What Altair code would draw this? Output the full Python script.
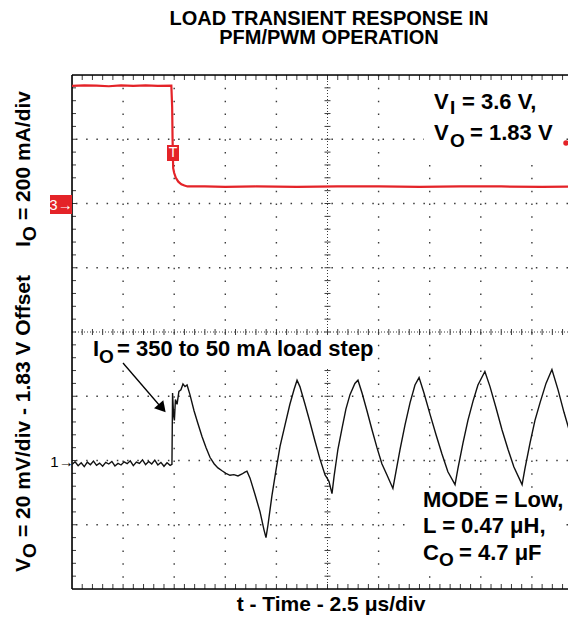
import altair as alt
import pandas as pd

# ---------------- data ----------------
# Channel 3 : output current I_O (mA) vs time (µs)
i_time = [0.0, 0.6, 1.2, 1.8, 2.4, 3.0, 3.6, 4.2, 4.86,
          4.90, 4.92, 4.95, 5.00, 5.08, 5.20, 5.35, 5.50, 5.65,
          6.5, 7.5, 9.0, 11.0, 13.0, 15.0, 17.0, 19.0, 21.0, 23.0, 24.66]
i_ma = [366, 368, 367, 365, 368, 366, 368, 366, 367,
        300, 200, 110, 95, 80, 68, 60, 56, 53,
        53, 52, 53, 52, 53, 53, 52, 53, 53, 52, 53]

# Channel 1 : output voltage deviation (mV, 1.83 V offset) vs time (µs)
v_time_base = [0.00, 0.15, 0.30, 0.45, 0.60, 0.75, 0.90, 1.05, 1.20, 1.35, 1.50,
               1.65, 1.80, 1.95, 2.10, 2.25, 2.40, 2.55, 2.70, 2.85, 3.00, 3.15,
               3.30, 3.45, 3.60, 3.75, 3.90, 4.05, 4.20, 4.35, 4.50, 4.65, 4.80]
v_mv_base = [-1.2, -0.4, -1.6, -0.7, -1.9, -0.5, -1.3, -0.2, -1.5, -0.8, -1.8,
             -0.6, -1.1, -0.3, -1.7, -0.9, -1.4, -0.4, -1.0, -0.1, -1.6, -0.5,
             -0.9, 0.2, -1.3, -0.3, -1.1, 0.1, -1.4, -0.6, -1.8, -0.7, -1.5]
v_time_step = [4.89, 4.92, 4.97, 5.01, 5.06, 5.14, 5.23, 5.33, 5.43, 5.53, 5.63, 5.77,
               5.97, 6.16, 6.36, 6.56, 6.75, 6.95, 7.14, 7.34, 7.53, 7.73, 7.92, 8.12,
               8.32, 8.46, 8.56, 8.71, 8.95, 9.20, 9.39, 9.49, 9.59, 9.78, 9.98, 10.18,
               10.42, 10.66, 10.86, 11.01, 11.15, 11.40, 11.64, 11.89, 12.13, 12.38,
               12.48, 12.57, 12.72, 12.82, 13.01, 13.21, 13.40, 13.60, 13.84, 13.99,
               14.19, 14.43, 14.68, 14.92, 15.16, 15.41, 15.70, 15.85, 16.05, 16.29,
               16.54, 16.78, 16.98, 17.22, 17.51, 17.81, 18.10, 18.39, 18.74, 18.88,
               19.13, 19.37, 19.62, 19.86, 20.20, 20.45, 20.74, 21.04, 21.33, 21.62,
               22.02, 22.16, 22.41, 22.65, 22.90, 23.19, 23.48, 23.78, 24.07, 24.37, 24.66]
v_mv_step = [-1.2, 21.0, 14.0, 12.5, 19.0, 17.5, 21.5, 22.0, 23.8, 23.0, 23.5, 20.5,
             15.5, 11.5, 7.5, 4.0, 1.0, -1.0, -2.3, -3.2, -4.0, -4.6, -4.4, -4.8,
             -4.2, -3.6, -3.3, -5.5, -10.5, -16.0, -21.5, -24.0, -20.0, -11.0, -3.0, 4.5,
             11.0, 17.5, 22.0, 25.0, 23.0, 17.5, 12.0, 6.0, 0.5, -4.5,
             -5.5, -6.5, -10.3, -5.0, 3.5, 10.0, 16.0, 20.5, 24.0, 25.0,
             21.0, 15.5, 9.5, 4.0, -1.0, -4.5, -8.7, -3.5, 3.5, 11.0,
             18.0, 23.5, 25.8, 21.0, 14.5, 8.0, 2.0, -3.5, -7.5, -2.5,
             5.5, 12.5, 18.5, 23.5, 27.7, 23.0, 16.5, 9.5, 3.5, -2.0,
             -7.5, -2.5, 5.5, 12.5, 18.0, 24.0, 28.3, 22.0, 15.0, 8.5, 4.0]

# scope graticule (time in µs, vertical in divisions)
major_t = [2.5, 5.0, 7.5, 10.0, 15.0, 17.5, 20.0, 22.5]
center_t = [12.5]
major_div = [1, 2, 3, 5, 6, 7]
center_div = [4]
minor_t = [0.5 * k for k in range(1, 49)]
minor_div = [0.2 * k for k in range(1, 40)]

# ---------------- layout / style ----------------
W, H = 496, 514
T_MAX = 25.0 * W / 511.0     # 511 px = 10 div = 25 µs; right edge of the screen is cut
FONT = "Liberation Sans, Arial, Helvetica, sans-serif"
RED = "#e42328"
GRID = "#3a3a3a"
ANN = 22  # annotation font size

xs = alt.Scale(domain=[0, T_MAX], nice=False, zero=False)
ds = alt.Scale(domain=[0, 8], nice=False, zero=False)
one = pd.DataFrame({"k": [0]})


def vrules(vals, dash, width=1.4, color=GRID):
    return alt.Chart(pd.DataFrame({"t": vals})).mark_rule(
        strokeDash=dash, strokeWidth=width, color=color
    ).encode(x=alt.X("t:Q", scale=xs, axis=None))


def hrules(vals, dash, width=1.4, color=GRID):
    return alt.Chart(pd.DataFrame({"d": vals})).mark_rule(
        strokeDash=dash, strokeWidth=width, color=color
    ).encode(y=alt.Y("d:Q", scale=ds, axis=None))


def ticks_along_x(t_vals, d_level, size, yoff=0):
    df = pd.DataFrame({"t": t_vals, "d": [d_level] * len(t_vals)})
    return alt.Chart(df).mark_tick(
        orient="vertical", size=size, thickness=1, color=GRID, yOffset=yoff, opacity=1
    ).encode(x=alt.X("t:Q", scale=xs, axis=None), y=alt.Y("d:Q", scale=ds, axis=None))


def ticks_along_y(d_vals, t_level, size, xoff=0):
    df = pd.DataFrame({"t": [t_level] * len(d_vals), "d": d_vals})
    return alt.Chart(df).mark_tick(
        orient="horizontal", size=size, thickness=1, color=GRID, xOffset=xoff, opacity=1
    ).encode(x=alt.X("t:Q", scale=xs, axis=None), y=alt.Y("d:Q", scale=ds, axis=None))


def txt(text, x, y, size=ANN, align="left", angle=0, color="black", weight="bold",
        baseline="alphabetic"):
    return alt.Chart(one).mark_text(
        text=text, align=align, baseline=baseline, angle=angle, fontSize=size,
        fontWeight=weight, font=FONT, color=color
    ).encode(x=alt.value(x), y=alt.value(y))


def box(x1, x2, y1, y2, color="white"):
    return alt.Chart(one).mark_rect(color=color).encode(
        x=alt.value(x1), x2=alt.value(x2), y=alt.value(y1), y2=alt.value(y2)
    )


def line_seg(x1, y1, x2, y2, width=1.5, color="black"):
    return alt.Chart(one).mark_rule(color=color, strokeWidth=width).encode(
        x=alt.value(x1), y=alt.value(y1), x2=alt.value(x2), y2=alt.value(y2)
    )


layers = []
# graticule
layers.append(vrules(major_t, [1.5, 11.35]))
layers.append(hrules(major_div, [1.5, 8.72]))
layers.append(vrules(center_t, [1, 2], width=1))
layers.append(hrules(center_div, [1, 2], width=1))
layers.append(ticks_along_x(minor_t, 4, 6))
layers.append(ticks_along_y(minor_div, 12.5, 6))
layers.append(ticks_along_x(minor_t, 8, 5, yoff=2.5))
layers.append(ticks_along_x(minor_t, 0, 5, yoff=-2.5))
layers.append(ticks_along_y(minor_div, 0, 4, xoff=2))
# frame (left, top, bottom)
layers.append(line_seg(0, 0, 0, H, width=1.6))
layers.append(line_seg(0, 0, W, 0, width=1.6))
layers.append(line_seg(0, H, W, H, width=1.6))

# white backgrounds of the annotations
layers.append(box(8, 300, 261, 293))
layers.append(box(352, 490, 6, 82))
layers.append(box(340, 490, 413, 498))

# traces
cur = pd.DataFrame({"t": i_time, "mA": i_ma})
layers.append(alt.Chart(cur).mark_line(color=RED, strokeWidth=2.2, clip=True).encode(
    x=alt.X("t:Q", scale=xs, axis=None),
    y=alt.Y("mA:Q", scale=alt.Scale(domain=[-1200, 400], nice=False, zero=False), axis=None),
))
volt = pd.DataFrame({"t": v_time_base + v_time_step, "mV": v_mv_base + v_mv_step})
layers.append(alt.Chart(volt).mark_line(color="#111111", strokeWidth=1.4, clip=True).encode(
    x=alt.X("t:Q", scale=xs, axis=None),
    y=alt.Y("mV:Q", scale=alt.Scale(domain=[-40, 120], nice=False, zero=False), axis=None),
))

# channel markers
layers.append(box(95, 107, 70, 86, color=RED))
layers.append(txt("T", 101, 78, size=14, align="center", color="white", weight="normal",
                  baseline="middle"))
layers.append(box(-22, 0, 120, 139, color=RED))
layers.append(txt("3→", -11, 130, size=15, align="center", color="white", weight="normal",
                  baseline="middle"))
layers.append(txt("1→", -10, 387, size=15, align="center", color="black", weight="normal",
                  baseline="middle"))
layers.append(alt.Chart(one).mark_point(shape="circle", filled=True, size=30, color=RED, opacity=1)
              .encode(x=alt.value(494), y=alt.value(68)))

# arrow for the load step
layers.append(line_seg(51, 288, 88, 331, width=1.3))
layers.append(alt.Chart(one).mark_point(shape="triangle", filled=True, size=150, angle=139,
                                        color="black", opacity=1)
              .encode(x=alt.value(89), y=alt.value(332)))

# titles
layers.append(txt("LOAD TRANSIENT RESPONSE IN", 257, -50, size=20, align="center"))
layers.append(txt("PFM/PWM OPERATION", 257, -31, size=20, align="center"))
layers.append(txt("t - Time - 2.5 μs/div", 259, 536, size=21, align="center"))

# vertical axis labels (rotated)
layers.append(txt("I", -42, 172, size=21, angle=270))
layers.append(txt("O", -36, 166, size=19, angle=270))
layers.append(txt("= 200 mA/div", -42, 145, size=21, angle=270))
layers.append(txt("V", -42, 497, size=21, angle=270))
layers.append(txt("O", -36, 483, size=19, angle=270))
layers.append(txt("= 20 mV/div - 1.83 V Offset", -42, 462, size=21, angle=270))

# annotations inside the screen
layers.append(txt("V", 362, 34))
layers.append(txt("I", 378, 39, size=19))
layers.append(txt("= 3.6 V,", 390, 34))
layers.append(txt("V", 362, 65))
layers.append(txt("O", 378, 72, size=19))
layers.append(txt("= 1.83 V", 398, 65))

layers.append(txt("I", 21, 281))
layers.append(txt("O", 27, 288, size=19))
layers.append(txt("= 350 to 50 mA load step", 45, 281))

layers.append(txt("MODE = Low,", 351, 432))
layers.append(txt("L = 0.47 μH,", 351, 458))
layers.append(txt("C", 351, 485))
layers.append(txt("O", 367, 491, size=19))
layers.append(txt("= 4.7 μF", 387, 485))

chart = alt.layer(*layers).resolve_scale(y="independent").properties(
    width=W, height=H,
    autosize=alt.AutoSizeParams(type="none"),
    padding={"left": 64, "top": 67, "right": 0, "bottom": 29},
).configure_view(stroke=None).configure(background="white")

chart.save("out.html", embed_options={"renderer": "svg", "actions": False})
